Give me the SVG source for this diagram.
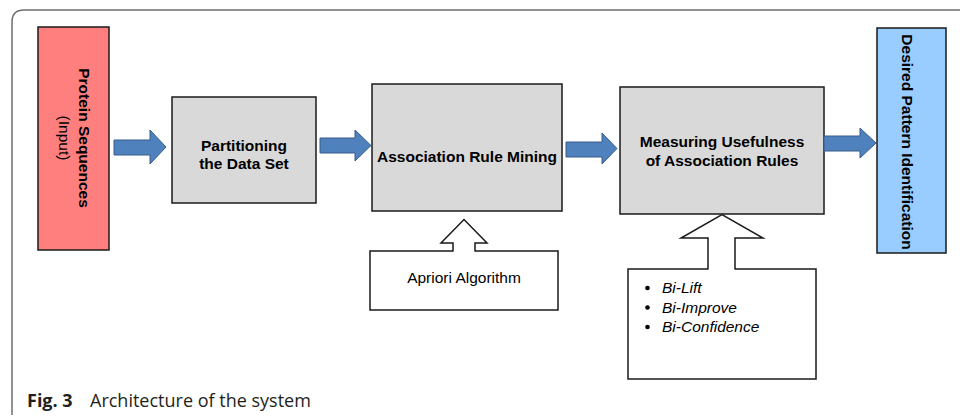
<svg xmlns="http://www.w3.org/2000/svg" width="960" height="417" viewBox="0 0 960 417">
  <style>
    .box { stroke: #1a1a1a; stroke-width: 1.5; }
    .step { fill: #d9d9d9; }
    .title { font-family: "Liberation Sans", Arial, sans-serif; font-weight: bold; font-size: 15.5px; fill: #000; text-anchor: middle; }
    .plain { font-family: "Liberation Sans", Arial, sans-serif; font-size: 15.5px; fill: #000; }
    .flow { fill: #4f81bd; stroke: #385d8a; stroke-width: 1; }
    .hollow { fill: #fff; stroke: #1a1a1a; stroke-width: 1.5; stroke-linejoin: miter; }
    .caption { font-family: "Open Sans", "Noto Sans", sans-serif; font-size: 18px; fill: #231f20; }
  </style>

  <rect width="960" height="417" fill="#fff"/>

  <!-- figure frame -->
  <path d="M12,415 V22 Q12,10 24,10 H960" fill="none" stroke="#6e6e6e" stroke-width="1.5"/>

  <!-- input -->
  <g id="input">
    <rect class="box" x="38" y="27" width="71" height="223" fill="#ff7f7f"/>
    <text class="title" transform="translate(79,138) rotate(90)" font-size="15.8">Protein Sequences</text>
    <text class="plain" transform="translate(59,138) rotate(90)" text-anchor="middle" font-size="15">(Input)</text>
  </g>

  <g id="partition">
    <rect class="box step" x="172" y="97" width="144" height="106"/>
    <text class="title" x="244" y="151">Partitioning</text>
    <text class="title" x="244" y="169">the Data Set</text>
  </g>

  <g id="mining">
    <rect class="box step" x="372" y="84" width="190" height="127"/>
    <text class="title" x="467" y="162" font-size="16">Association Rule Mining</text>
  </g>

  <g id="apriori">
    <rect class="box" x="370" y="251" width="188" height="59" fill="#fff"/>
    <text class="plain" x="464" y="283" text-anchor="middle" font-size="16">Apriori Algorithm</text>
  </g>

  <g id="usefulness">
    <rect class="box step" x="620" y="87" width="204" height="127"/>
    <text class="title" x="722" y="147" font-size="16">Measuring Usefulness</text>
    <text class="title" x="722" y="166" font-size="16">of Association Rules</text>
  </g>

  <g id="measures">
    <rect class="box" x="628" y="269" width="188" height="110" fill="#fff"/>
    <g fill="#000">
      <circle cx="647.5" cy="288" r="2.3"/>
      <circle cx="647.5" cy="307.5" r="2.3"/>
      <circle cx="647.5" cy="327" r="2.3"/>
    </g>
    <text class="plain" font-style="italic" font-size="15">
      <tspan x="662" y="293">Bi-Lift</tspan>
      <tspan x="662" y="312.5">Bi-Improve</tspan>
      <tspan x="662" y="332">Bi-Confidence</tspan>
    </text>
  </g>

  <g id="output">
    <rect class="box" x="877" y="28" width="69" height="225" fill="#99ccff"/>
    <text class="title" transform="translate(902,142) rotate(90)" font-size="15.8">Desired Pattern Identification</text>
  </g>

  <!-- connectors -->
  <g id="connectors">
    <polygon class="flow" points="114,140 150,140 150,130 166,147 150,164 150,155 114,155"/>
    <polygon class="flow" points="320,138 355,138 355,130 371,145.5 355,161 355,153 320,153"/>
    <polygon class="flow" points="566,142 602,142 602,133 617,148.5 602,164 602,157 566,157"/>
    <polygon class="flow" points="824,136 860,136 860,128 876,143 860,158 860,151 824,151"/>

    <!-- open arrows feeding the steps from below -->
    <polygon points="464,219.5 487,243 475,243 475,252 453,252 453,243 441,243" fill="#fff"/>
    <polyline class="hollow" points="453,251.5 453,243 441,243 464,219.5 487,243 475,243 475,251.5" fill="#fff"/>

    <polygon points="722,214.5 763,238 735,238 735,270 708,270 708,238 681,238" fill="#fff"/>
    <polyline class="hollow" points="708,269.5 708,238 681,238 722,214.5 763,238 735,238 735,269.5" fill="#fff"/>
  </g>

  <text class="caption" x="27" y="406.5"><tspan font-weight="bold">Fig. 3</tspan><tspan x="90">Architecture of the system</tspan></text>
</svg>
